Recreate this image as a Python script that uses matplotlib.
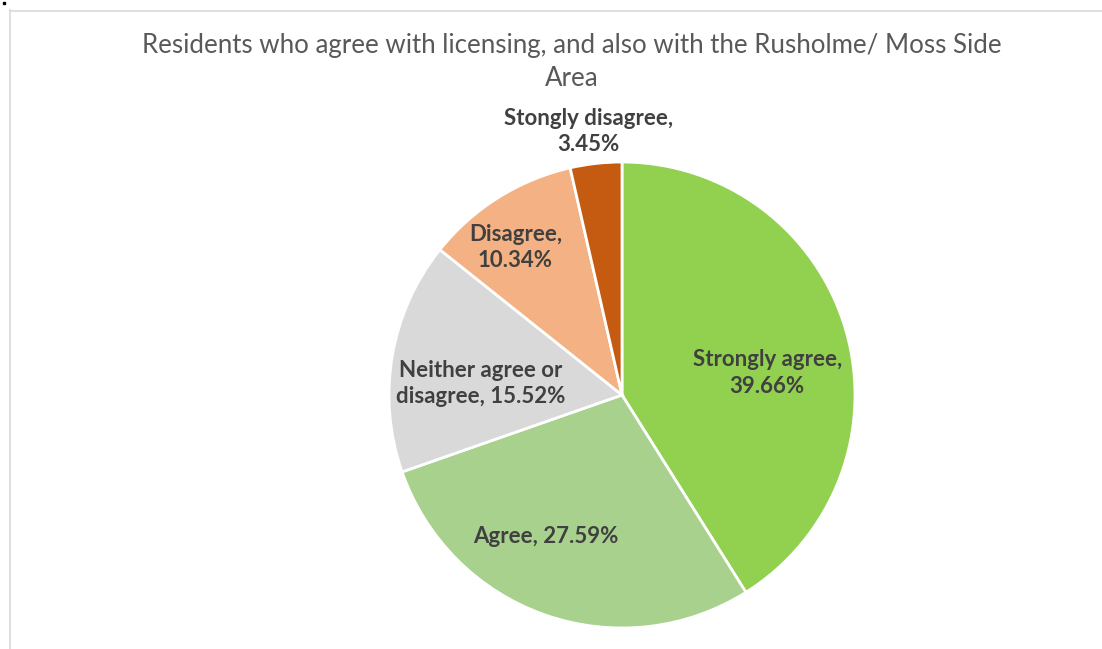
import matplotlib
matplotlib.use("Agg")
import matplotlib.pyplot as plt
from matplotlib.lines import Line2D
from matplotlib.patches import Rectangle
import numpy as np

title = "Residents who agree with licensing, and also with the Rusholme/ Moss Side\nArea"
categories = ["Strongly agree", "Agree", "Neither agree or disagree", "Disagree", "Stongly disagree"]
values = [39.66, 27.59, 15.52, 10.34, 3.45]
label_texts = ["Strongly agree,\n39.66%", "Agree, 27.59%", "Neither agree or\ndisagree, 15.52%",
               "Disagree,\n10.34%", "Stongly disagree,\n3.45%"]
colors = ["#92D050", "#A9D18E", "#D9D9D9", "#F4B183", "#C55A11"]
# label placement (radius fraction, angle deg)
label_pos = [(0.63, 8.6), (0.69, -118.2), (0.61, 175.2), (0.78, 125.9), (1.14, 97.3)]

W, H = 1102, 649
cx, cy, R = 622, 395, 233
fig = plt.figure(figsize=(W / 100, H / 100), dpi=100)
ax = fig.add_axes([0, 0, 1, 1])

ax.pie(values, colors=colors, startangle=90, counterclock=False, radius=1,
       wedgeprops=dict(edgecolor="white", linewidth=2), frame=True)
ax.set_xlim((0 - cx) / R, (W - cx) / R)
ax.set_ylim((cy - H) / R, cy / R)
ax.set_aspect("auto")
ax.axis("off")

for txt, (r, a) in zip(label_texts, label_pos):
    t = np.deg2rad(a)
    ax.text(r * np.cos(t), r * np.sin(t), txt, ha="center", va="center",
            fontsize=16, fontweight="bold", color="#404040", family="Lato",
            linespacing=1.3)

fig.text(572 / W, 1 - 62 / H, title, ha="center", va="center", fontsize=18.6,
         color="#595959", family="Lato", linespacing=1.45)

# chart border
fig.add_artist(Line2D([9.5 / W, 9.5 / W], [0, 1 - 10 / H], color="#D9D9D9", lw=1.2,
                      transform=fig.transFigure))
fig.add_artist(Line2D([9.5 / W, 1], [1 - 10.5 / H, 1 - 10.5 / H], color="#D9D9D9", lw=1.2,
                      transform=fig.transFigure))
fig.add_artist(Rectangle((3 / W, 1 - 4 / H), 2 / W, 2 / H, color="black",
                         transform=fig.transFigure))

fig.savefig("out.png", dpi=100)
